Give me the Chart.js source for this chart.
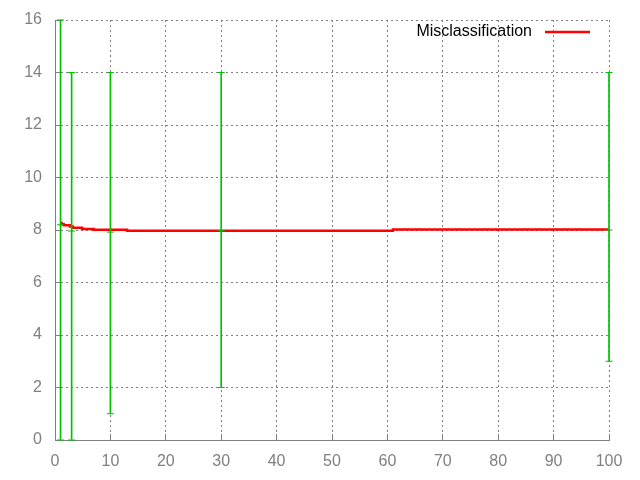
<!DOCTYPE html>
<html>
<head>
<meta charset="utf-8">
<title>Misclassification</title>
<script src="https://cdn.jsdelivr.net/npm/chart.js@4"></script>
<style>
  html, body { margin: 0; padding: 0; background: #fff; }
</style>
</head>
<body>
<canvas id="chart" width="640" height="480"></canvas>
<script>
// stepped misclassification curve
const missX = [1, 1.2, 1.6, 2.7, 3.2, 4.9, 7, 13, 61, 100];
const missY = [8.27, 8.22, 8.18, 8.13, 8.09, 8.04, 8.01, 7.97, 8.02, 8.02];

// error bars (green)
const barX = [1, 3, 10, 30, 100];
const barLow = [0, 0, 1, 2, 3];
const barHigh = [16, 14, 14, 14, 14];
const barMean = [8.2, 7.96, 7.92, 7.97, 8.0];

// axis ticks
const xTicks = [0, 10, 20, 30, 40, 50, 60, 70, 80, 90, 100];
const yTicks = [0, 2, 4, 6, 8, 10, 12, 14, 16];

const GRAY = "#808080";
const GREEN = "#00c000";
const RED = "#ff0000";

Chart.defaults.font.family = "'Liberation Sans', Arial, sans-serif";
Chart.defaults.font.size = 16;

// gnuplot style key: text first, line sample after it, inside the plot top right
const keyPlugin = {
  id: "gnuKey",
  afterDraw(chart) {
    const ds = chart.data.datasets.find((d) => d.label);
    if (!ds) return;
    const { ctx, chartArea } = chart;
    const lineEnd = chartArea.right - 19;
    const lineStart = lineEnd - 45;
    const y = chartArea.top + 12;
    ctx.save();
    ctx.font = "16px 'Liberation Sans', Arial, sans-serif";
    ctx.fillStyle = "#000";
    ctx.textAlign = "right";
    ctx.textBaseline = "middle";
    ctx.fillText(ds.label, lineStart - 13, y);
    ctx.strokeStyle = ds.borderColor;
    ctx.lineWidth = ds.borderWidth;
    ctx.beginPath();
    ctx.moveTo(lineStart, y);
    ctx.lineTo(lineEnd, y);
    ctx.stroke();
    ctx.restore();
  }
};

const capPoints = [];
barX.forEach((x, i) => {
  capPoints.push({ x: x, y: barLow[i] });
  capPoints.push({ x: x, y: barHigh[i] });
});

new Chart(document.getElementById("chart"), {
  type: "line",
  data: {
    datasets: [
      {
        type: "bar",
        data: barX.map((x, i) => ({ x: x, y: [barLow[i], barHigh[i]] })),
        backgroundColor: GREEN,
        borderWidth: 0,
        barThickness: 1,
        grouped: false,
        clip: false
      },
      {
        data: capPoints,
        showLine: false,
        pointStyle: "line",
        pointRadius: 3.5,
        pointBorderWidth: 1,
        pointBorderColor: GREEN,
        clip: false
      },
      {
        data: barX.map((x, i) => ({ x: x, y: barMean[i] })),
        showLine: false,
        pointStyle: "line",
        pointRadius: 3.5,
        pointBorderWidth: 1,
        pointBorderColor: GREEN,
        clip: false
      },
      {
        label: "Misclassification",
        data: missX.map((x, i) => ({ x: x, y: missY[i] })),
        borderColor: RED,
        backgroundColor: RED,
        borderWidth: 2.5,
        stepped: true,
        pointRadius: 0,
        fill: false
      }
    ]
  },
  options: {
    responsive: false,
    animation: false,
    layout: { padding: { left: 0, right: 31, top: 20, bottom: 0 } },
    scales: {
      x: {
        type: "linear",
        min: 0,
        max: 100,
        offset: false,
        afterBuildTicks: (s) => { s.ticks = xTicks.map((v) => ({ value: v })); },
        afterFit: (s) => { s.height = 40; s.paddingLeft = 0; s.paddingRight = 0; },
        grid: { color: GRAY, offset: false, tickLength: -6, tickColor: GRAY, tickBorderDash: [] },
        border: { color: GRAY, dash: [2, 3] },
        ticks: { color: GRAY, padding: 17.5, maxRotation: 0 }
      },
      y: {
        type: "linear",
        min: 0,
        max: 16,
        afterBuildTicks: (s) => { s.ticks = yTicks.map((v) => ({ value: v })); },
        afterFit: (s) => { s.width = 55; s.paddingTop = 0; s.paddingBottom = 0; },
        grid: { color: GRAY, tickLength: -6, tickColor: GRAY, tickBorderDash: [] },
        border: { color: GRAY, dash: [2, 3] },
        ticks: { color: GRAY, padding: 19 }
      }
    },
    plugins: {
      legend: { display: false },
      tooltip: { enabled: false }
    }
  },
  plugins: [keyPlugin]
});
</script>
</body>
</html>
